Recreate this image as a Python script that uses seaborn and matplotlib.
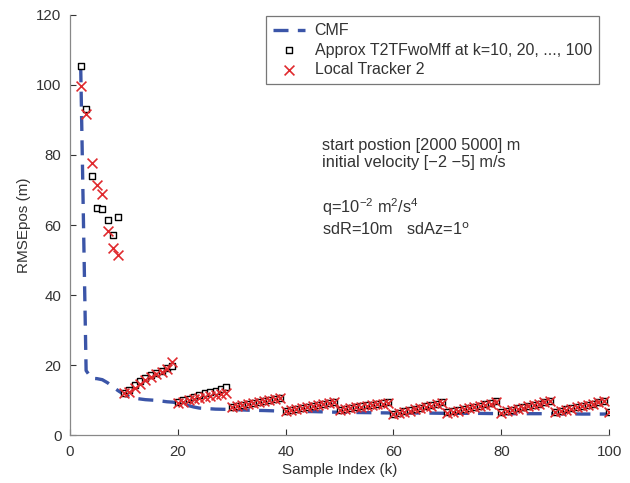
"""
RMSE of position vs sample index: CMF, approximate T2TF without memory,
and local tracker 2 (fused every 10 samples).
"""

import matplotlib
matplotlib.use("Agg")
import matplotlib.pyplot as plt
import seaborn as sns
import pandas as pd

# CMF curve (k -> RMSE)
cmf_k = [2, 3, 4, 5, 6, 7, 8, 9, 10, 11, 12, 13, 14, 15, 16, 17, 18, 19, 20,
         21, 22, 23, 24, 25, 27, 30, 33, 36, 40, 45, 50, 55, 60, 65, 70, 75,
         80, 85, 90, 95, 100]
cmf_rmse = [105.0, 18.5, 16.3, 16.2, 15.9, 15.0, 13.8, 12.7, 11.7, 11.0, 10.6,
            10.4, 10.2, 10.1, 10.0, 9.8, 9.6, 9.5, 9.3, 8.9, 8.5, 8.1, 7.8,
            7.7, 7.5, 7.4, 7.2, 7.1, 6.9, 6.8, 6.6, 6.5, 6.4, 6.4, 6.3, 6.3,
            6.2, 6.2, 6.2, 6.1, 6.1]

# markers at every sample k = 2 .. 100
sample_k = list(range(2, 101))

approx_rmse = [
    105.5, 93.0, 74.0, 65.0, 64.5, 61.5, 57.3, 62.2,
    12.0, 13.0, 14.5, 15.5, 16.3, 17.2, 17.8, 18.5, 19.3, 19.8,
    9.5, 10.0, 10.5, 11.0, 11.5, 12.0, 12.4, 12.8, 13.2, 13.7,
    8.2, 8.5, 8.8, 9.1, 9.3, 9.6, 9.9, 10.1, 10.4, 10.6,
    7.0, 7.3, 7.6, 7.9, 8.2, 8.5, 8.8, 9.1, 9.3, 9.6,
    7.3, 7.6, 7.8, 8.1, 8.3, 8.6, 8.8, 9.0, 9.2, 9.4,
    6.1, 6.5, 6.9, 7.2, 7.6, 7.9, 8.3, 8.6, 9.0, 9.4,
    6.6, 6.9, 7.2, 7.5, 7.9, 8.2, 8.5, 8.9, 9.3, 9.7,
    6.6, 7.0, 7.3, 7.7, 8.0, 8.4, 8.7, 9.1, 9.5, 9.9,
    6.7, 7.0, 7.4, 7.7, 8.1, 8.4, 8.8, 9.1, 9.5, 9.9,
    6.7,
]

local_rmse = [
    99.8, 91.8, 77.6, 71.5, 68.8, 58.4, 53.6, 51.5,
    12.0, 12.5, 13.5, 14.8, 15.8, 16.8, 17.5, 18.2, 19.0, 21.0,
    9.3, 9.6, 10.0, 10.3, 10.6, 10.9, 11.2, 11.5, 11.8, 12.2,
    8.0, 8.3, 8.6, 8.9, 9.2, 9.5, 9.7, 10.0, 10.3, 10.6,
    6.9, 7.2, 7.5, 7.8, 8.1, 8.4, 8.7, 9.0, 9.2, 9.5,
    7.2, 7.5, 7.7, 8.0, 8.2, 8.5, 8.7, 8.9, 9.1, 9.3,
    6.0, 6.4, 6.8, 7.1, 7.5, 7.8, 8.2, 8.5, 8.9, 9.3,
    6.5, 6.8, 7.1, 7.4, 7.8, 8.1, 8.4, 8.8, 9.1, 9.5,
    6.5, 6.9, 7.2, 7.6, 7.9, 8.3, 8.6, 9.0, 9.4, 9.8,
    6.6, 6.9, 7.3, 7.6, 8.0, 8.3, 8.7, 9.0, 9.4, 9.8,
    6.6,
]

info_lines = [
    "start postion [2000 5000] m",
    "initial velocity [\u22122 \u22125] m/s",
    "q=10$^{-2}$ m$^{2}$/s$^{4}$",
    "sdR=10m   sdAz=1$^{\\rm o}$",
]
info_y = [0.690, 0.648, 0.543, 0.490]

sns.set_style("ticks")
plt.rcParams["font.family"] = ["Liberation Sans", "DejaVu Sans"]
plt.rcParams["mathtext.default"] = "regular"
plt.rcParams["text.color"] = "#333333"
plt.rcParams["axes.labelcolor"] = "#333333"
plt.rcParams["xtick.color"] = "#333333"
plt.rcParams["ytick.color"] = "#333333"

cmf_df = pd.DataFrame({"k": cmf_k, "rmse": cmf_rmse})
pts_df = pd.DataFrame({"k": sample_k, "approx": approx_rmse, "local": local_rmse})

fig = plt.figure(figsize=(6.3, 4.83), dpi=100)
ax = fig.add_axes([0.1110, 0.0985, 0.856, 0.871])

sns.lineplot(data=cmf_df, x="k", y="rmse", ax=ax, color="#3b55a8",
             linewidth=2.4, dashes=False, label="CMF", zorder=2)
ax.lines[0].set_dashes([4.5, 2.8])

sns.scatterplot(data=pts_df, x="k", y="approx", ax=ax, marker="s", s=20,
                facecolor="white", edgecolor="black", linewidth=1.0,
                label="Approx T2TFwoMff at k=10, 20, ..., 100", zorder=3)
sns.scatterplot(data=pts_df, x="k", y="local", ax=ax, marker="x", s=50,
                color="#e02a2e", linewidth=1.2,
                label="Local Tracker 2", zorder=4)

ax.set_xlim(0, 100)
ax.set_ylim(0, 120)
ax.set_xticks(range(0, 101, 20))
ax.set_yticks(range(0, 121, 20))
ax.tick_params(direction="in", length=4, width=0.8, labelsize=10.8, colors="#333333")
ax.tick_params(axis="x", pad=7)
ax.tick_params(axis="y", pad=6)
for side in ["top", "right"]:
    ax.spines[side].set_visible(False)
for side in ["left", "bottom"]:
    ax.spines[side].set_color("#888888")
    ax.spines[side].set_linewidth(0.9)

ax.set_xlabel("Sample Index (k)", fontsize=11, labelpad=3)
ax.set_ylabel("RMSEpos (m)", fontsize=11, labelpad=4)

leg = ax.legend(loc="upper right", bbox_to_anchor=(0.981, 0.997), fontsize=11.5,
                frameon=True, fancybox=False, handlelength=2.0,
                borderpad=0.45, labelspacing=0.28, handletextpad=0.6,
                borderaxespad=0.0)
leg.get_frame().set_edgecolor("#555555")
leg.get_frame().set_linewidth(0.9)

for line, y in zip(info_lines, info_y):
    ax.text(0.468, y, line, transform=ax.transAxes, fontsize=11.8, va="center")

plt.savefig("out.png", dpi=100)
